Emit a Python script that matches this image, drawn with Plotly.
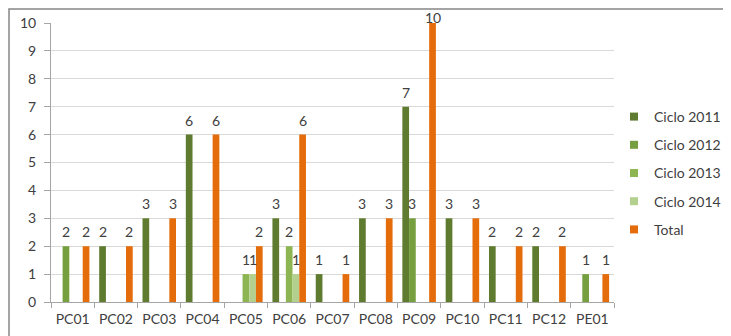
import plotly.graph_objects as go

categories = ["PC01", "PC02", "PC03", "PC04", "PC05", "PC06", "PC07",
              "PC08", "PC09", "PC10", "PC11", "PC12", "PE01"]
ciclo_2011 = [None, 2, 3, 6, None, 3, 1, 3, 7, 3, 2, 2, None]
ciclo_2012 = [2, None, None, None, None, None, None, None, 3, None, None, None, 1]
ciclo_2013 = [None, None, None, None, 1, 2, None, None, None, None, None, None, None]
ciclo_2014 = [None, None, None, None, 1, 1, None, None, None, None, None, None, None]
total = [2, 2, 3, 6, 2, 6, 1, 3, 10, 3, 2, 2, 1]

series_names = ["Ciclo 2011", "Ciclo 2012", "Ciclo 2013", "Ciclo 2014", "Total"]
series_values = [ciclo_2011, ciclo_2012, ciclo_2013, ciclo_2014, total]
colors = ["#5F7B2F", "#76A03F", "#8DB652", "#B4D08E", "#E46C0A"]
y_ticks = list(range(0, 11))
y_max = 10

FONT = "Lato, Liberation Sans, sans-serif"
FS = 14

# layout geometry (pixels within the figure)
L, R, T, B = 43, 125, 15, 42
W, H = 731, 336
plot_w = W - L - R
BARGAP = 0.226
n_cat = len(categories)
n_ser = len(series_names)
bar_w = plot_w / n_cat * (1 - BARGAP) / n_ser

fig = go.Figure()
annotations = []
for i, (name, vals, col) in enumerate(zip(series_names, series_values, colors)):
    fig.add_trace(go.Bar(
        x=categories, y=vals, name=name,
        marker=dict(color=col, line=dict(width=0)),
        showlegend=False, legendgroup=name,
    ))
    fig.add_trace(go.Scatter(
        x=[None], y=[None], mode="markers", name=name, legendgroup=name,
        marker=dict(symbol="square", size=8, color=col), showlegend=True,
    ))
    for cat, v in zip(categories, vals):
        if v is None:
            continue
        annotations.append(dict(
            x=cat, y=v, xref="x", yref="y", text=str(v), showarrow=False,
            xanchor="center", yanchor="bottom",
            xshift=(i - (n_ser - 1) / 2) * bar_w,
            yshift=(4 if v < y_max else -5),
            font=dict(family=FONT, size=FS, color="#404040"),
        ))

fig.update_layout(
    width=W, height=H,
    margin=dict(l=L, r=R, t=T, b=B, autoexpand=False),
    paper_bgcolor="white", plot_bgcolor="white",
    barmode="group", bargap=BARGAP, bargroupgap=0,
    font=dict(family=FONT, size=FS, color="#595959"),
    legend=dict(xref="container", yref="container",
                x=606 / W, xanchor="left", y=1 - 165 / H, yanchor="middle",
                font=dict(family=FONT, size=FS, color="#404040"),
                tracegroupgap=7, itemwidth=30, bgcolor="rgba(0,0,0,0)"),
    xaxis=dict(
        automargin=False,
        showgrid=False, showline=True, linecolor="#A6A6A6", linewidth=1,
        ticks="outside", tickson="boundaries", ticklen=5, tickcolor="#A6A6A6",
        ticklabelstandoff=4,
        tickfont=dict(family=FONT, size=FS, color="#404040"),
    ),
    yaxis=dict(
        automargin=False,
        range=[0, y_max], tickvals=y_ticks, showgrid=True, gridcolor="#D9D9D9",
        gridwidth=1, showline=True, linecolor="#A6A6A6", linewidth=1,
        ticks="outside", ticklen=6, tickcolor="#A6A6A6",
        ticklabelstandoff=5,
        tickfont=dict(family=FONT, size=FS, color="#404040"),
        zeroline=False,
    ),
    annotations=annotations,
    shapes=[
        dict(type="rect", xref="paper", yref="paper",
             x0=(1 - L) / plot_w, x1=1.4, y0=-0.4,
             y1=1 + (T - 1) / (H - T - B),
             line=dict(color="#868686", width=1.5), fillcolor="rgba(0,0,0,0)",
             layer="below"),
    ],
)

fig.write_html("out.html")
